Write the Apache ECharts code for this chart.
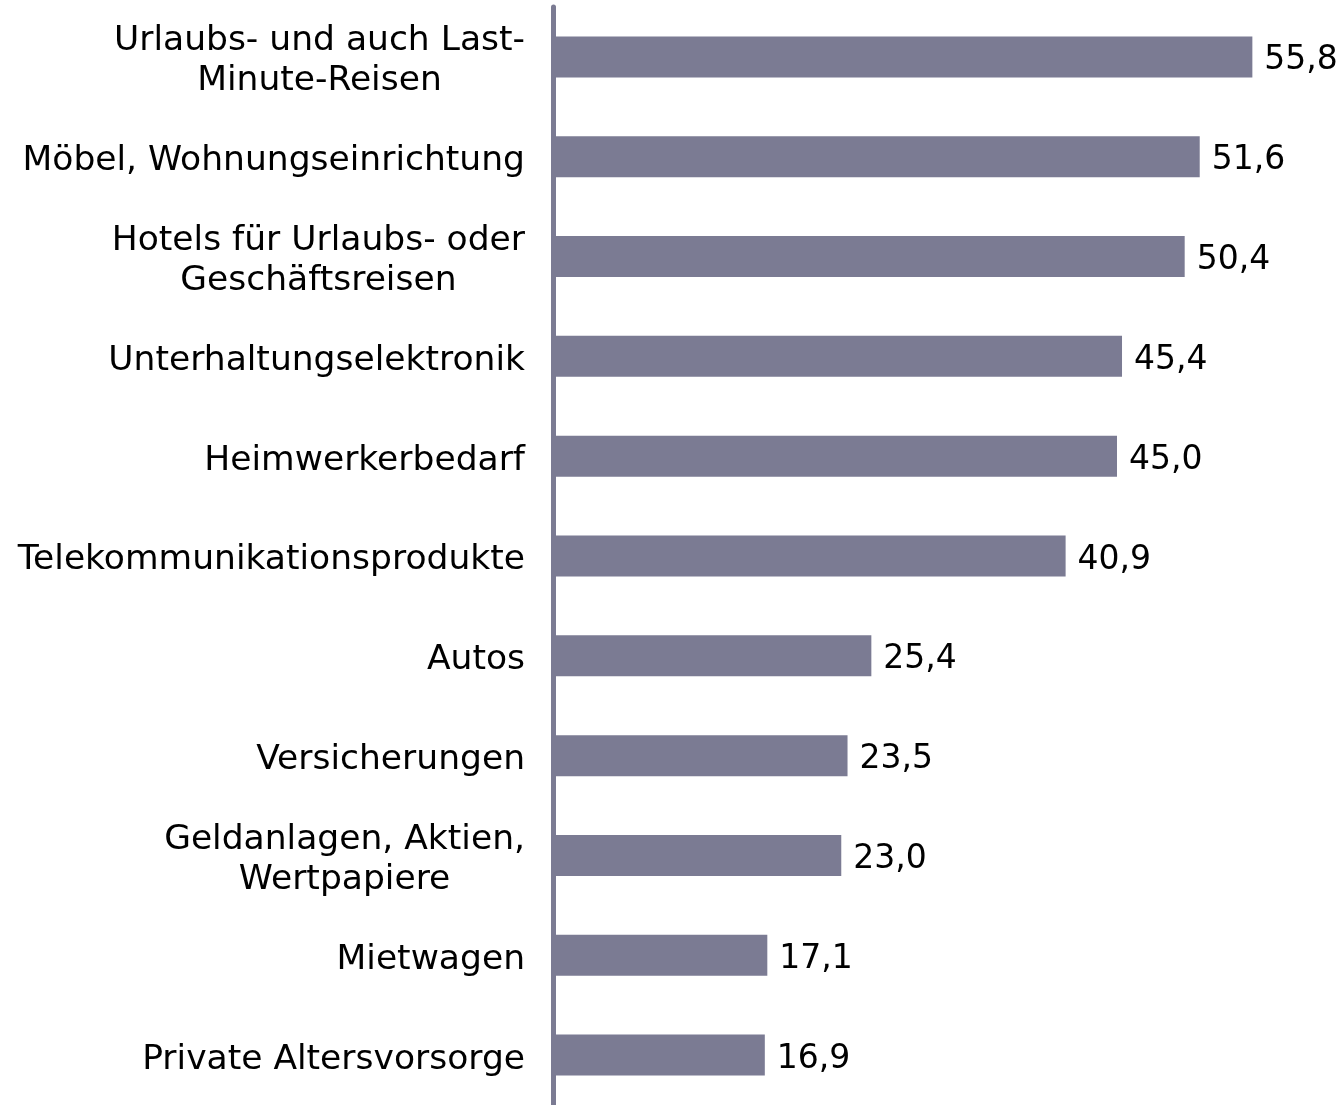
<!DOCTYPE html>
<html>
<head>
<meta charset="utf-8">
<script src="https://cdn.jsdelivr.net/npm/echarts@6/dist/echarts.min.js"></script>
<style>
  html, body { margin: 0; padding: 0; background: #fff; }
  #chart { width: 1343px; height: 1105px; }
</style>
</head>
<body>
<div id="chart"></div>
<script>
  // Kategorien (von oben nach unten)
  const categories = [
    'Urlaubs- und auch Last-\nMinute-Reisen',
    'Möbel, Wohnungseinrichtung',
    'Hotels für Urlaubs- oder\nGeschäftsreisen',
    'Unterhaltungselektronik',
    'Heimwerkerbedarf',
    'Telekommunikationsprodukte',
    'Autos',
    'Versicherungen',
    'Geldanlagen, Aktien,\nWertpapiere',
    'Mietwagen',
    'Private Altersvorsorge'
  ]
  const values = [55.8, 51.6, 50.4, 45.4, 45.0, 40.9, 25.4, 23.5, 23.0, 17.1, 16.9]

  const barColor = '#7b7b93'
  const font = 'DejaVu Sans'

  const chart = echarts.init(document.getElementById('chart'))
  chart.setOption({
    animation: false,
    grid: {
      left: 553,
      top: 7,
      width: 752,
      height: 1098,
      containLabel: false
    },
    xAxis: {
      type: 'value',
      min: 0,
      max: 60,
      show: false
    },
    yAxis: {
      type: 'category',
      inverse: true,
      data: categories,
      axisLine: {
        show: true,
        lineStyle: { color: barColor, width: 5, cap: 'round' }
      },
      axisTick: { show: false },
      axisLabel: {
        margin: 28,
        align: 'right',
        padding: [9, 0, 0, 0],
        // mehrzeilige Beschriftungen zentriert, Block rechtsbündig
        formatter: v => v.split('\n').map(s => '{c|' + s + '}').join('\n'),
        rich: {
          c: {
            align: 'center',
            color: '#000',
            fontFamily: font,
            fontSize: 34.5,
            lineHeight: 40
          }
        }
      }
    },
    series: [{
      type: 'bar',
      data: values,
      barWidth: 41,
      itemStyle: { color: barColor },
      label: {
        show: true,
        position: 'right',
        distance: 12,
        offset: [0, 4],
        color: '#000',
        fontFamily: font,
        fontSize: 33,
        formatter: p => p.value.toFixed(1).replace('.', ',')
      },
      z: 1
    }]
  })
</script>
</body>
</html>
